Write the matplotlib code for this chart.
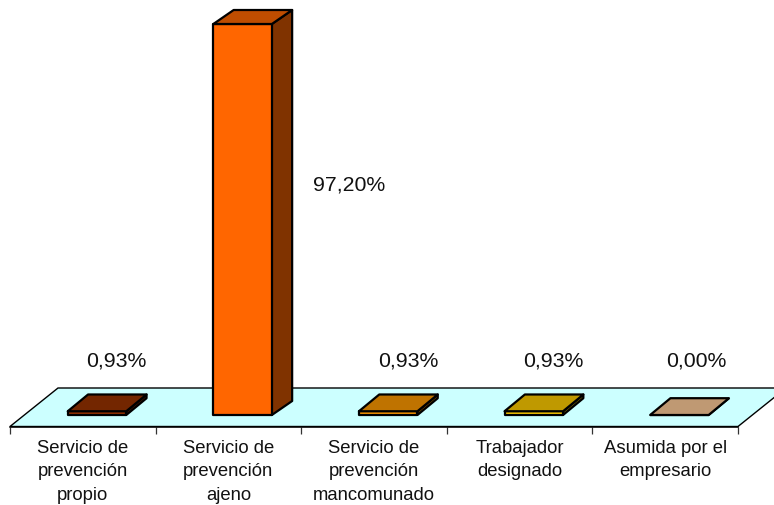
import matplotlib
matplotlib.use("Agg")
import matplotlib.pyplot as plt
from matplotlib.patches import Polygon
from matplotlib.ticker import FixedLocator, FixedFormatter, NullFormatter

plt.rcParams["font.family"] = ["Liberation Sans", "DejaVu Sans"]

categories = [
    "Servicio de\nprevención\npropio",
    "Servicio de\nprevención\najeno",
    "Servicio de\nprevención\nmancomunado",
    "Trabajador\ndesignado",
    "Asumida por el\nempresario",
]
values = [0.93, 97.20, 0.93, 0.93, 0.00]
value_labels = ["0,93%", "97,20%", "0,93%", "0,93%", "0,00%"]

front_cols = ["#993300", "#FF6600", "#FF9900", "#FFCC00", "#FFCC99"]
top_cols = ["#732600", "#BF4D00", "#BF7300", "#BF9900", "#BF9973"]
side_cols = ["#4D1A00", "#803300", "#804D00", "#806600", "#806600"]

# layout, in pixels of the 774x505 picture
W, H = 774.0, 505.0
dpi = 100
left, right, floor_y = 10.0, 738.0, 426.5
px_unit = (right - left) / len(categories)
px_value = (415.0 - 24.0) / 97.2

fig = plt.figure(figsize=(W / dpi, H / dpi), dpi=dpi)
ax = fig.add_axes([left / W, (H - floor_y) / H, (right - left) / W, floor_y / H])
ax.set_xlim(-0.5, len(categories) - 0.5)
ax.set_ylim((415.0 - floor_y) / px_value, 415.0 / px_value)
ax.patch.set_visible(False)
for s in ["top", "left", "right"]:
    ax.spines[s].set_visible(False)
ax.spines["bottom"].set_linewidth(1.1)
ax.spines["bottom"].set_zorder(5)
ax.yaxis.set_visible(False)

# ticks between categories, labels centred under them
ax.xaxis.set_major_locator(FixedLocator([i - 0.5 for i in range(len(categories) + 1)]))
ax.xaxis.set_major_formatter(NullFormatter())
ax.xaxis.set_minor_locator(FixedLocator(list(range(len(categories)))))
ax.xaxis.set_minor_formatter(FixedFormatter(categories))
ax.tick_params(axis="x", which="major", length=5, width=0.9, color="#333333")
ax.tick_params(axis="x", which="minor", length=0, pad=10, labelsize=13.3, labelcolor="#111111")
fig.canvas.draw()
for t in ax.xaxis.get_minorticklabels():
    t.set_linespacing(1.47)
    t.set_verticalalignment("top")

xu = 1.0 / px_unit
yu = 1.0 / px_value

# floor
y0 = (415.0 - floor_y) * yu
floor_dx, floor_dy = 48 * xu, 38.5 * yu
ax.add_patch(Polygon(
    [(-0.5, y0), (4.5, y0), (4.5 + floor_dx, y0 + floor_dy), (-0.5 + floor_dx, y0 + floor_dy)],
    closed=True, facecolor="#CCFFFF", edgecolor="black", linewidth=1.0, clip_on=False, zorder=1,
))

# bars
bar_off, bar_w = 14.2 * xu, 58.5 * xu
dx = 20.3 * xu
for i, v in enumerate(values):
    x0 = i + bar_off - bar_w / 2
    x1 = x0 + bar_w
    dy = (16.8 - 2.8 * v / 97.2) * yu
    edge = dict(edgecolor="black", linewidth=1.6, joinstyle="round", clip_on=False, zorder=3)
    ax.add_patch(Polygon([(x1, 0), (x1 + dx, dy), (x1 + dx, v + dy), (x1, v)],
                         closed=True, facecolor=side_cols[i], **edge))
    ax.add_patch(Polygon([(x0, 0), (x1, 0), (x1, v), (x0, v)],
                         closed=True, facecolor=front_cols[i], **edge))
    ax.add_patch(Polygon([(x0, v), (x1, v), (x1 + dx, v + dy), (x0 + dx, v + dy)],
                         closed=True, facecolor=top_cols[i], **edge))

# value labels, offset from each bar
label_dx = [33.2, 120.6, 34.2, 33.4, 31.0]
label_px_y = [361, 185, 361, 361, 361]
for i, lab in enumerate(value_labels):
    ax.text(i + label_dx[i] * xu, (415.0 - label_px_y[i]) * yu, lab,
            ha="center", va="center", fontsize=15.3, color="#111111", clip_on=False)

fig.savefig("out.png", dpi=dpi)
